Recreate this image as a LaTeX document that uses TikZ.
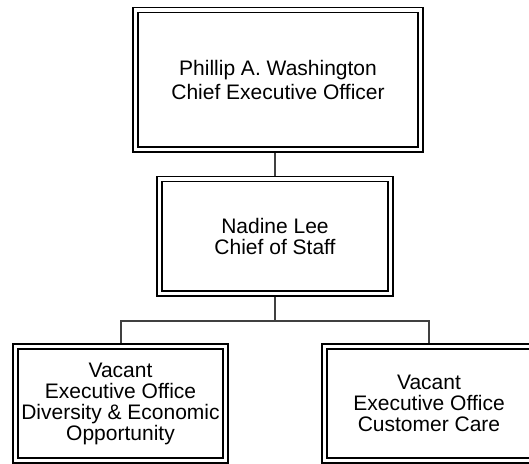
\documentclass[tikz,border=0pt]{standalone}
\usepackage{fontspec}
\setmainfont{Liberation Sans}
\usetikzlibrary{calc}
\tikzset{
  post/.style={draw, double, line width=1.7pt, double distance=3.3pt,
    fill=white, align=center, inner sep=0pt, outer sep=3.35pt,
    font=\fontsize{21}{21}\selectfont},
  link/.style={draw=black!75, line width=2pt}
}

\begin{document}
\begin{tikzpicture}[x=1pt,y=-1pt]

            \useasboundingbox (0,0) rectangle (529,463);
            % boxes
            \node[post, minimum width=285pt, minimum height=139.5pt,
              font=\fontsize{21}{24}\selectfont] (ceo) at (278,79.75)
              {Phillip A. Washington\\Chief Executive Officer};
            \node[post, minimum width=231pt, minimum height=114.5pt] (staff) at (275,236.25)
              {Nadine Lee\\Chief of Staff};
            \node[post, minimum width=210pt, minimum height=114pt] (diversity) at (120.5,403.5)
              {Vacant\\Executive Office\\Diversity \& Economic\\Opportunity};
            \node[post, minimum width=209pt, minimum height=114pt] (care) at (429,403.5)
              {Vacant\\Executive Office\\Customer Care};
            % links
            \coordinate (bus) at ($(staff.south)+(0,24)$);
            \draw[link] (staff.north) -- (staff.north |- ceo.south);
            \draw[link] (staff.south) -- (bus);
            \draw[link] (bus) -| (diversity.north);
            \draw[link] (bus) -| (care.north);

        \end{tikzpicture}
\end{document}
